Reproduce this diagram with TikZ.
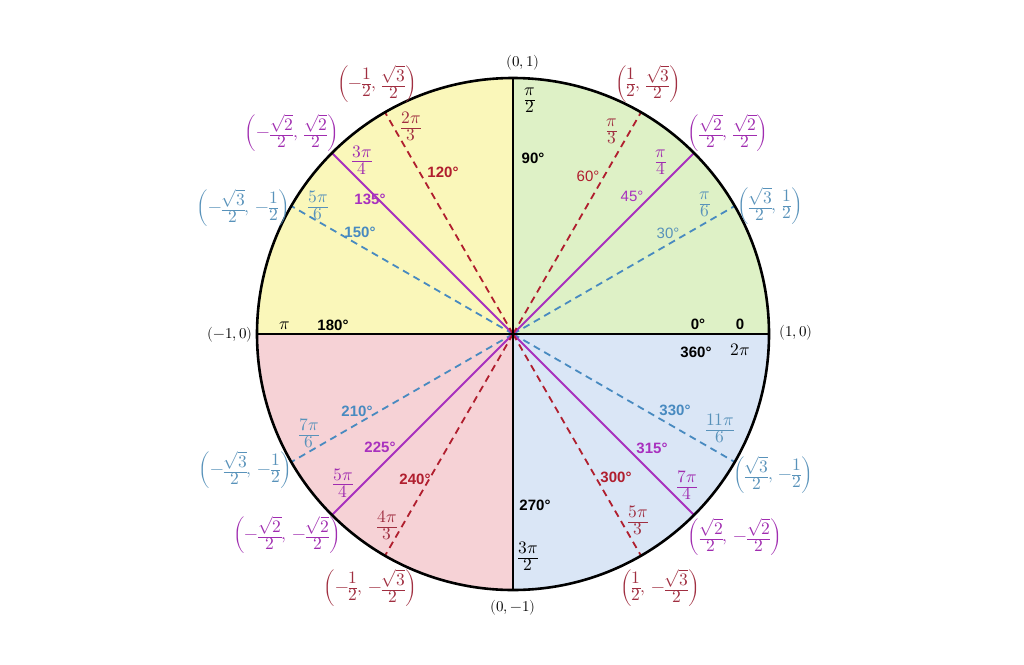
\documentclass[tikz,border=0pt]{standalone}
\usepackage{fontspec}
\usepackage{unicode-math}
\setmathfont{Latin Modern Math}
\setsansfont{Liberation Sans}
\usepackage{array}
\definecolor{qone}{RGB}{222,241,198}
\definecolor{qtwo}{RGB}{250,247,186}
\definecolor{qthree}{RGB}{246,210,214}
\definecolor{qfour}{RGB}{218,230,246}
\definecolor{bl}{RGB}{72,138,192}
\definecolor{blt}{RGB}{88,146,186}
\definecolor{pu}{RGB}{168,48,190}
\definecolor{put}{RGB}{160,44,176}
\definecolor{rd}{RGB}{176,30,46}
\definecolor{rdt}{RGB}{160,46,64}
\newcommand\fr[2]{{\renewcommand\arraystretch{0.74}\setlength\arrayrulewidth{0.9pt}\begin{array}{@{}c@{}}#1\\\hline #2\end{array}}}
\newcommand\pr[2]{\ensuremath{\left(#1,\,#2\right)}}
\tikzset{
  deg/.style={inner sep=0pt,font=\fontsize{15}{18}\selectfont\sffamily\bfseries},
  degl/.style={inner sep=0pt,font=\fontsize{15}{18}\selectfont\sffamily},
  frc/.style={inner sep=0pt,font=\fontsize{17.5}{20}\selectfont},
  xy/.style={inner sep=0pt,font=\fontsize{15}{18}\selectfont},
  dline/.style={line width=1.8pt,dash pattern=on 7pt off 5pt},
  sline/.style={line width=1.8pt},
}
\begin{document}
\begin{tikzpicture}[x=1pt,y=-1pt]
\useasboundingbox (0,0) rectangle (1024,664);
\fill[white] (0,0) rectangle (1024,664);
\begin{scope}[shift={(513,334)}]
\coordinate (O) at (0,0);
\foreach \a in {0,30,45,60,90,120,135,150,180,210,225,240,270,300,315,330}
  \coordinate (p\a) at (-\a:256);
\fill[qone] (O) -- (p0) arc[start angle=0,end angle=-90,radius=256] -- cycle;
\fill[qtwo] (O) -- (p90) arc[start angle=-90,end angle=-180,radius=256] -- cycle;
\fill[qthree] (O) -- (p180) arc[start angle=-180,end angle=-270,radius=256] -- cycle;
\fill[qfour] (O) -- (p270) arc[start angle=-270,end angle=-360,radius=256] -- cycle;
\foreach \a in {30,150,210,330} \draw[bl,dline] (O) -- (p\a);
\foreach \a in {45,135,225,315} \draw[pu,sline] (O) -- (p\a);
\foreach \a in {60,120,240,300} \draw[rd,dline] (O) -- (p\a);
\draw[line width=1.6pt] (p0) -- (p180);
\draw[line width=1.6pt] (p90) -- (p270);
\draw[line width=2.6pt] (O) circle[radius=256];
\end{scope}
% axis points
\node[xy] (c90) at (523,63) {$(0,1)$};
\node[xy] (c270) at (513,608) {$(0,-1)$};
\node[xy] (c180) at (230,335) {$(-1,0)$};
\node[xy] (c0) at (796,333) {$(1,0)$};
% black labels
\node[frc] (f90) at (530,101) {$\fr{\pi}{2}$};
\node[deg] (d90) at (533,158) {90°};
\node[frc] (f180) at (285,326) {$\pi$};
\node[deg] (d180) at (333,325) {180°};
\node[deg] (d0) at (698,324) {0°};
\node[deg] (f0) at (740,324) {0};
\node[deg] (d360) at (696,352) {360°};
\node[frc] (f360) at (740,350) {$2\pi$};
\node[deg] (d270) at (535,505) {270°};
\node[frc] (f270) at (528,558) {$\fr{3\pi}{2}$};
% red
\node[frc,rdt] (f120) at (411,128) {$\fr{2\pi}{3}$};
\node[deg,rd] (d120) at (443,172) {120°};
\node[frc,rdt] (f60) at (612,132) {$\fr{\pi}{3}$};
\node[degl,rd] (d60) at (588,176) {60°};
\node[deg,rd] (d240) at (415,479) {240°};
\node[frc,rdt] (f240) at (387,527) {$\fr{4\pi}{3}$};
\node[deg,rd] (d300) at (616,477) {300°};
\node[frc,rdt] (f300) at (638,522) {$\fr{5\pi}{3}$};
\node[frc,rdt] (c120) at (377,84) {\pr{-\fr{1}{2}}{\fr{\sqrt{3}}{2}}};
\node[frc,rdt] (c60) at (648,84) {\pr{\fr{1}{2}}{\fr{\sqrt{3}}{2}}};
\node[frc,rdt] (c240) at (370,588) {\pr{-\fr{1}{2}}{-\fr{\sqrt{3}}{2}}};
\node[frc,rdt] (c300) at (660,588) {\pr{\fr{1}{2}}{-\fr{\sqrt{3}}{2}}};
% purple
\node[frc,put] (f135) at (362,162) {$\fr{3\pi}{4}$};
\node[deg,pu] (d135) at (370,199) {135°};
\node[frc,put] (f45) at (661,163) {$\fr{\pi}{4}$};
\node[degl,pu] (d45) at (632,196) {45°};
\node[deg,pu] (d225) at (380,447) {225°};
\node[frc,put] (f225) at (343,485) {$\fr{5\pi}{4}$};
\node[deg,pu] (d315) at (652,448) {315°};
\node[frc,put] (f315) at (687,487) {$\fr{7\pi}{4}$};
\node[frc,put] (c135) at (292,133) {\pr{-\fr{\sqrt{2}}{2}}{\fr{\sqrt{2}}{2}}};
\node[frc,put] (c45) at (728,133) {\pr{\fr{\sqrt{2}}{2}}{\fr{\sqrt{2}}{2}}};
\node[frc,put] (c225) at (287,535) {\pr{-\fr{\sqrt{2}}{2}}{-\fr{\sqrt{2}}{2}}};
\node[frc,put] (c315) at (735,537) {\pr{\fr{\sqrt{2}}{2}}{-\fr{\sqrt{2}}{2}}};
% blue
\node[frc,blt] (f150) at (318,207) {$\fr{5\pi}{6}$};
\node[deg,bl] (d150) at (360,232) {150°};
\node[frc,blt] (f30) at (705,205) {$\fr{\pi}{6}$};
\node[degl,blt] (d30) at (668,233) {30°};
\node[deg,bl] (d210) at (357,411) {210°};
\node[frc,blt] (f210) at (309,435) {$\fr{7\pi}{6}$};
\node[deg,bl] (d330) at (675,410) {330°};
\node[frc,blt] (f330) at (720,430) {$\fr{11\pi}{6}$};
\node[frc,blt] (c150) at (243,208) {\pr{-\fr{\sqrt{3}}{2}}{-\fr{1}{2}}};
\node[frc,blt] (c30) at (770,206) {\pr{\fr{\sqrt{3}}{2}}{\fr{1}{2}}};
\node[frc,blt] (c210) at (245,470) {\pr{-\fr{\sqrt{3}}{2}}{-\fr{1}{2}}};
\node[frc,blt] (c330) at (773,475) {\pr{\fr{\sqrt{3}}{2}}{-\fr{1}{2}}};
\end{tikzpicture}
\end{document}
